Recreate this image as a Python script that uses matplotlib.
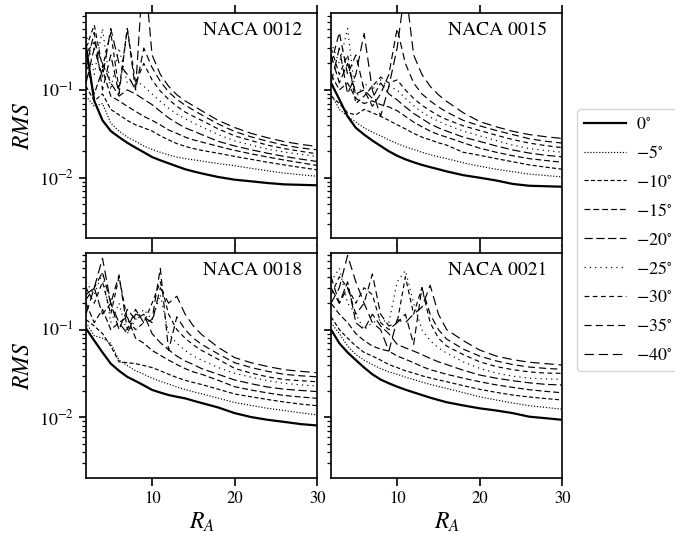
import matplotlib
matplotlib.use("Agg")
import matplotlib.pyplot as plt

plt.rcParams['font.family'] = 'serif'
plt.rcParams['font.serif'] = ['STIXGeneral', 'Liberation Serif', 'DejaVu Serif']
plt.rcParams['mathtext.fontset'] = 'stix'
plt.rcParams['axes.linewidth'] = 1.2

# aspect ratio values on the x axis
ra = [2, 3, 4, 5, 6, 7, 8, 9, 10, 11, 12, 13, 14, 15, 16, 18, 20, 22, 24, 26, 28, 30]
angles = [0, -5, -10, -15, -20, -25, -30, -35, -40]
airfoils = ['NACA 0012', 'NACA 0015', 'NACA 0018', 'NACA 0021']

# RMS per angle (rows follow `angles`)
rms_0012 = [
    [0.31, 0.075, 0.045, 0.034, 0.029, 0.025, 0.022, 0.0195, 0.0172, 0.0158, 0.0146, 0.0135, 0.0125, 0.0118, 0.0112, 0.0102, 0.0095, 0.0091, 0.0087, 0.0084, 0.0083, 0.0082],
    [0.085, 0.065, 0.07, 0.042, 0.034, 0.029, 0.026, 0.023, 0.021, 0.0195, 0.0182, 0.0172, 0.0165, 0.016, 0.0155, 0.0145, 0.0137, 0.0128, 0.012, 0.0113, 0.0108, 0.0104],
    [0.11, 0.075, 0.09, 0.06, 0.052, 0.045, 0.04, 0.037, 0.034, 0.030, 0.027, 0.0245, 0.0228, 0.0215, 0.0205, 0.019, 0.0175, 0.0162, 0.015, 0.014, 0.0131, 0.0123],
    [0.2, 0.09, 0.17, 0.085, 0.075, 0.065, 0.057, 0.05, 0.045, 0.040, 0.035, 0.032, 0.029, 0.027, 0.0255, 0.0228, 0.0205, 0.0187, 0.0172, 0.0159, 0.0148, 0.0138],
    [0.26, 0.35, 0.2, 0.12, 0.085, 0.1, 0.09, 0.078, 0.068, 0.057, 0.048, 0.042, 0.037, 0.034, 0.031, 0.026, 0.023, 0.0208, 0.019, 0.0175, 0.0163, 0.0153],
    [0.45, 0.15, 0.5, 0.1, 0.3, 0.12, 0.13, 0.11, 0.09, 0.074, 0.062, 0.053, 0.047, 0.042, 0.038, 0.031, 0.0263, 0.0235, 0.0212, 0.0196, 0.0185, 0.0175],
    [0.3, 0.55, 0.18, 0.45, 0.1, 0.5, 0.12, 0.2, 0.13, 0.097, 0.078, 0.065, 0.056, 0.05, 0.045, 0.036, 0.030, 0.0265, 0.0235, 0.0215, 0.02, 0.0187],
    [0.18, 0.45, 0.1, 0.25, 0.09, 0.5, 0.1, 0.3, 0.18, 0.125, 0.095, 0.078, 0.067, 0.059, 0.052, 0.041, 0.0336, 0.0292, 0.026, 0.0235, 0.0218, 0.0208],
    [0.12, 0.3, 0.14, 0.5, 0.2, 0.15, 0.1, 2.9, 0.25, 0.15, 0.11, 0.088, 0.075, 0.066, 0.058, 0.045, 0.0373, 0.032, 0.0285, 0.0258, 0.024, 0.0227],
]
rms_0015 = [
    [0.12, 0.078, 0.05, 0.037, 0.031, 0.0265, 0.023, 0.020, 0.0178, 0.0162, 0.015, 0.014, 0.0132, 0.0125, 0.0118, 0.0107, 0.0100, 0.0093, 0.0085, 0.0081, 0.008, 0.0079],
    [0.09, 0.06, 0.05, 0.043, 0.037, 0.033, 0.03, 0.027, 0.0245, 0.0225, 0.021, 0.0195, 0.0183, 0.0173, 0.0165, 0.0148, 0.0135, 0.0125, 0.0117, 0.011, 0.0106, 0.0102],
    [0.085, 0.07, 0.055, 0.052, 0.06, 0.055, 0.05, 0.045, 0.04, 0.036, 0.032, 0.029, 0.027, 0.025, 0.0235, 0.0195, 0.018, 0.0165, 0.0152, 0.014, 0.0132, 0.0125],
    [0.15, 0.1, 0.12, 0.08, 0.07, 0.075, 0.068, 0.064, 0.058, 0.05, 0.043, 0.038, 0.034, 0.031, 0.029, 0.025, 0.0217, 0.0195, 0.0178, 0.0165, 0.0157, 0.015],
    [0.25, 0.12, 0.2, 0.09, 0.1, 0.08, 0.12, 0.09, 0.077, 0.064, 0.054, 0.047, 0.041, 0.037, 0.034, 0.029, 0.0259, 0.023, 0.0207, 0.0191, 0.018, 0.0173],
    [0.35, 0.2, 0.5, 0.08, 0.12, 0.1, 0.13, 0.11, 0.1, 0.08, 0.066, 0.056, 0.049, 0.044, 0.04, 0.034, 0.030, 0.0265, 0.0235, 0.0215, 0.0204, 0.0195],
    [0.3, 0.15, 0.25, 0.07, 0.085, 0.11, 0.14, 0.12, 0.13, 0.1, 0.08, 0.067, 0.058, 0.051, 0.046, 0.039, 0.0345, 0.0305, 0.0272, 0.0248, 0.0232, 0.022],
    [0.2, 0.45, 0.15, 0.25, 0.1, 0.065, 0.09, 0.15, 0.5, 0.2, 0.12, 0.09, 0.075, 0.064, 0.056, 0.045, 0.039, 0.0345, 0.031, 0.0278, 0.026, 0.0248],
    [0.12, 0.3, 0.09, 0.15, 0.44, 0.1, 0.05, 0.11, 0.3, 1.5, 0.25, 0.15, 0.11, 0.088, 0.074, 0.055, 0.0436, 0.038, 0.0338, 0.031, 0.0293, 0.028],
]
rms_0018 = [
    [0.103, 0.075, 0.055, 0.041, 0.034, 0.029, 0.026, 0.0232, 0.0206, 0.0192, 0.018, 0.0172, 0.0165, 0.0155, 0.0146, 0.013, 0.0112, 0.0101, 0.0094, 0.0089, 0.0084, 0.0081],
    [0.12, 0.085, 0.08, 0.07, 0.045, 0.039, 0.034, 0.031, 0.028, 0.0258, 0.024, 0.0222, 0.0208, 0.0196, 0.0186, 0.0166, 0.0148, 0.0137, 0.0127, 0.012, 0.0113, 0.0107],
    [0.13, 0.11, 0.09, 0.065, 0.043, 0.042, 0.041, 0.039, 0.037, 0.034, 0.031, 0.0285, 0.0265, 0.025, 0.0237, 0.021, 0.0185, 0.0172, 0.016, 0.015, 0.0142, 0.0136],
    [0.2, 0.12, 0.17, 0.1, 0.12, 0.14, 0.08, 0.07, 0.058, 0.051, 0.045, 0.04, 0.036, 0.033, 0.031, 0.0265, 0.0224, 0.0205, 0.019, 0.0178, 0.0171, 0.0165],
    [0.25, 0.3, 0.15, 0.2, 0.1, 0.17, 0.13, 0.15, 0.09, 0.071, 0.059, 0.05, 0.044, 0.04, 0.036, 0.031, 0.0267, 0.0242, 0.0222, 0.021, 0.0203, 0.0197],
    [0.35, 0.25, 0.45, 0.12, 0.2, 0.09, 0.13, 0.17, 0.13, 0.25, 0.09, 0.07, 0.058, 0.05, 0.045, 0.037, 0.0318, 0.0287, 0.0262, 0.0245, 0.0235, 0.0228],
    [0.3, 0.2, 0.35, 0.15, 0.4, 0.13, 0.1, 0.12, 0.2, 0.35, 0.15, 0.1, 0.08, 0.067, 0.058, 0.046, 0.0362, 0.032, 0.029, 0.027, 0.0262, 0.0255],
    [0.22, 0.3, 0.45, 0.2, 0.42, 0.1, 0.17, 0.12, 0.13, 0.5, 0.058, 0.14, 0.1, 0.08, 0.068, 0.053, 0.042, 0.037, 0.0335, 0.031, 0.0298, 0.029],
    [0.15, 0.3, 0.65, 0.2, 0.12, 0.09, 0.15, 0.14, 0.12, 0.3, 0.2, 0.24, 0.15, 0.11, 0.088, 0.063, 0.048, 0.042, 0.038, 0.035, 0.0335, 0.0323],
]
rms_0021 = [
    [0.1, 0.07, 0.055, 0.045, 0.037, 0.031, 0.027, 0.0245, 0.0224, 0.0207, 0.0193, 0.018, 0.0168, 0.0158, 0.0149, 0.0137, 0.0127, 0.012, 0.0112, 0.0102, 0.0098, 0.0094],
    [0.12, 0.09, 0.065, 0.052, 0.045, 0.04, 0.036, 0.033, 0.031, 0.0288, 0.027, 0.0253, 0.0238, 0.0225, 0.0214, 0.0192, 0.0172, 0.0158, 0.0146, 0.0136, 0.013, 0.0124],
    [0.14, 0.1, 0.08, 0.065, 0.055, 0.05, 0.045, 0.04, 0.037, 0.034, 0.032, 0.0298, 0.0282, 0.0268, 0.0255, 0.023, 0.0209, 0.0193, 0.018, 0.0171, 0.0164, 0.0158],
    [0.2, 0.15, 0.12, 0.09, 0.075, 0.065, 0.06, 0.057, 0.05, 0.046, 0.042, 0.038, 0.035, 0.033, 0.031, 0.028, 0.0255, 0.0235, 0.022, 0.0207, 0.0198, 0.0191],
    [0.3, 0.2, 0.35, 0.12, 0.1, 0.15, 0.11, 0.09, 0.068, 0.062, 0.057, 0.052, 0.047, 0.043, 0.04, 0.0345, 0.0304, 0.028, 0.0262, 0.0248, 0.0238, 0.0234],
    [0.35, 0.5, 0.2, 0.15, 0.1, 0.12, 0.13, 0.12, 0.35, 0.47, 0.2, 0.1, 0.075, 0.062, 0.054, 0.043, 0.0362, 0.032, 0.0295, 0.028, 0.0275, 0.0271],
    [0.25, 0.4, 0.3, 0.2, 0.3, 0.25, 0.12, 0.1, 0.12, 0.4, 0.15, 0.3, 0.12, 0.08, 0.065, 0.052, 0.043, 0.038, 0.035, 0.033, 0.032, 0.0318],
    [0.4, 0.2, 0.3, 0.15, 0.2, 0.43, 0.15, 0.11, 0.12, 0.15, 0.068, 0.3, 0.15, 0.1, 0.078, 0.06, 0.05, 0.044, 0.04, 0.0375, 0.0362, 0.0353],
    [0.2, 0.3, 0.7, 0.35, 0.2, 0.12, 0.1, 0.057, 0.13, 0.12, 0.15, 0.18, 0.32, 0.15, 0.1, 0.075, 0.0585, 0.05, 0.0455, 0.0425, 0.041, 0.0395],
]

styles = ['-', (0, (1, 1.5)), (0, (3.5, 2)), (0, (5, 2.5)), (0, (7, 3)),
          (0, (1, 3.5)), (0, (4, 3)), (0, (6, 3.5)), (0, (8, 4))]
widths = [1.6] + [0.85] * 8

fig, axes = plt.subplots(2, 2, figsize=(6.75, 5.35), dpi=100, sharex=True, sharey=True)
fig.subplots_adjust(left=0.1274, right=0.833, bottom=0.1071, top=0.9751,
                    wspace=0.06, hspace=0.067)

for ax, name, data in zip(axes.flat, airfoils, [rms_0012, rms_0015, rms_0018, rms_0021]):
    for ang, vals, ls, lw in zip(angles, data, styles, widths):
        ax.plot(ra, vals, color='black', linestyle=ls, linewidth=lw,
                label=r'$%d^{\circ}$' % ang)
    ax.set_yscale('log')
    ax.text(0.935, 0.96, name, transform=ax.transAxes, ha='right', va='top', fontsize=14)
    ax.tick_params(axis='x', which='both', top=True, direction='out', length=6,
                   width=1.2, labelsize=12)
    ax.tick_params(axis='y', which='major', direction='out', length=5, width=1.2, labelsize=13)
    ax.tick_params(axis='y', which='minor', direction='out', length=3, width=0.9)

ax0 = axes[0, 0]
ax0.set_xlim(2, 30)
ax0.set_ylim(2.06e-3, 0.745)
ax0.set_xticks([10, 20, 30])

for ax in axes[:, 0]:
    ax.set_ylabel(r'$RMS$', fontsize=17, labelpad=4)
for ax in axes[1, :]:
    ax.set_xlabel(r'$R_A$', fontsize=17, labelpad=3)

handles, labels = ax0.get_legend_handles_labels()
fig.legend(handles, labels, loc='center left', bbox_to_anchor=(0.8415, 0.551),
           fontsize=13, handlelength=2.3, labelspacing=0.67, handletextpad=0.55)

fig.savefig('out.png', dpi=100)
